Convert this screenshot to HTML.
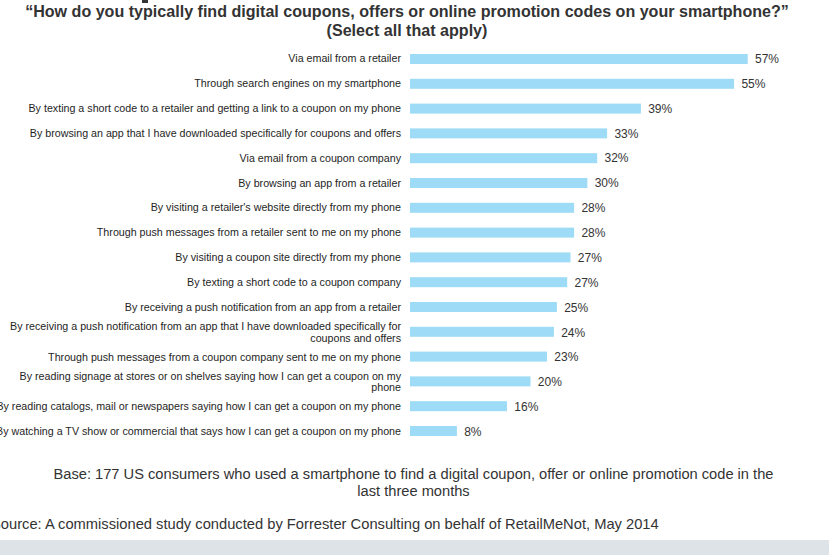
<!DOCTYPE html>
<html><head><meta charset="utf-8"><style>
html,body{margin:0;padding:0}
body{width:829px;height:555px;overflow:hidden;background:#fff;position:relative;font-family:"Liberation Sans",Arial,sans-serif;color:#333}
.desc{position:absolute;left:142px;top:0;width:6px;height:2.7px;background:#333}
.title{position:absolute;left:0;top:2.3px;width:814px;text-align:center;font-weight:bold;font-size:16.08px;line-height:18.5px;color:#333}
.lab{position:absolute;left:0;width:401px;height:60px;display:flex;align-items:center;justify-content:flex-end;text-align:right;font-size:10.7px;line-height:11.5px;color:#1e1e1e;white-space:nowrap}
.bars{position:absolute;left:0;top:0}
.pct{position:absolute;height:20px;line-height:20px;font-size:12px;color:#333;white-space:nowrap}
.base{position:absolute;left:0;top:465.7px;width:827px;text-align:center;font-size:14.667px;line-height:17.3px;color:#333}
.src{position:absolute;left:-9px;top:515.8px;font-size:14.71px;line-height:17px;color:#333;white-space:nowrap}
.band{position:absolute;left:0;top:540px;width:829px;height:15px;background:#dee3e8}
</style></head><body>
<div class="desc"></div>
<div class="title">&ldquo;How do you typically find digital coupons, offers or online promotion codes on your smartphone?&rdquo;<br>(Select all that apply)</div>
<div class="lab" style="top:29.00px">Via email from a retailer</div>
<div class="pct" style="top:49.00px;left:755.0px">57%</div>
<div class="lab" style="top:53.87px">Through search engines on my smartphone</div>
<div class="pct" style="top:73.87px;left:741.4px">55%</div>
<div class="lab" style="top:78.74px">By texting a short code to a retailer and getting a link to a coupon on my phone</div>
<div class="pct" style="top:98.74px;left:648.2px">39%</div>
<div class="lab" style="top:103.61px">By browsing an app that I have downloaded specifically for coupons and offers</div>
<div class="pct" style="top:123.61px;left:614.4px">33%</div>
<div class="lab" style="top:128.48px">Via email from a coupon company</div>
<div class="pct" style="top:148.48px;left:604.5px">32%</div>
<div class="lab" style="top:153.35px">By browsing an app from a retailer</div>
<div class="pct" style="top:173.35px;left:594.7px">30%</div>
<div class="lab" style="top:178.22px">By visiting a retailer's website directly from my phone</div>
<div class="pct" style="top:198.22px;left:581.4px">28%</div>
<div class="lab" style="top:203.09px">Through push messages from a retailer sent to me on my phone</div>
<div class="pct" style="top:223.09px;left:581.4px">28%</div>
<div class="lab" style="top:227.96px">By visiting a coupon site directly from my phone</div>
<div class="pct" style="top:247.96px;left:577.8px">27%</div>
<div class="lab" style="top:252.83px">By texting a short code to a coupon company</div>
<div class="pct" style="top:272.83px;left:574.5px">27%</div>
<div class="lab" style="top:277.70px">By receiving a push notification from an app from a retailer</div>
<div class="pct" style="top:297.70px;left:564.2px">25%</div>
<div class="lab" style="top:302.57px">By receiving a push notification from an app that I have downloaded specifically for<br>coupons and offers</div>
<div class="pct" style="top:322.57px;left:561.2px">24%</div>
<div class="lab" style="top:327.44px">Through push messages from a coupon company sent to me on my phone</div>
<div class="pct" style="top:347.44px;left:554.3px">23%</div>
<div class="lab" style="top:352.31px">By reading signage at stores or on shelves saying how I can get a coupon on my<br>phone</div>
<div class="pct" style="top:372.31px;left:537.8px">20%</div>
<div class="lab" style="top:377.18px">By reading catalogs, mail or newspapers saying how I can get a coupon on my phone</div>
<div class="pct" style="top:397.18px;left:514.3px">16%</div>
<div class="lab" style="top:402.05px">By watching a TV show or commercial that says how I can get a coupon on my phone</div>
<div class="pct" style="top:422.05px;left:464.2px">8%</div>
<svg class="bars" width="829" height="555" viewBox="0 0 829 555" fill="#9ddbf6"><rect x="410" y="54.00" width="337.7" height="10"/><rect x="410" y="78.80" width="324.1" height="10"/><rect x="410" y="103.60" width="230.9" height="10"/><rect x="410" y="128.40" width="197.1" height="10"/><rect x="410" y="153.20" width="187.2" height="10"/><rect x="410" y="178.00" width="177.4" height="10"/><rect x="410" y="202.80" width="164.1" height="10"/><rect x="410" y="227.60" width="164.1" height="10"/><rect x="410" y="252.40" width="160.5" height="10"/><rect x="410" y="277.20" width="157.2" height="10"/><rect x="410" y="302.00" width="146.9" height="10"/><rect x="410" y="326.80" width="143.9" height="10"/><rect x="410" y="351.60" width="137.0" height="10"/><rect x="410" y="376.40" width="120.5" height="10"/><rect x="410" y="401.20" width="97.0" height="10"/><rect x="410" y="426.00" width="46.9" height="10"/></svg>
<div class="base">Base: 177 US consumers who used a smartphone to find a digital coupon, offer or online promotion code in the<br>last three months</div>
<div class="src">Source: A commissioned study conducted by Forrester Consulting on behalf of RetailMeNot, May 2014</div>
<div class="band"></div>
</body></html>
